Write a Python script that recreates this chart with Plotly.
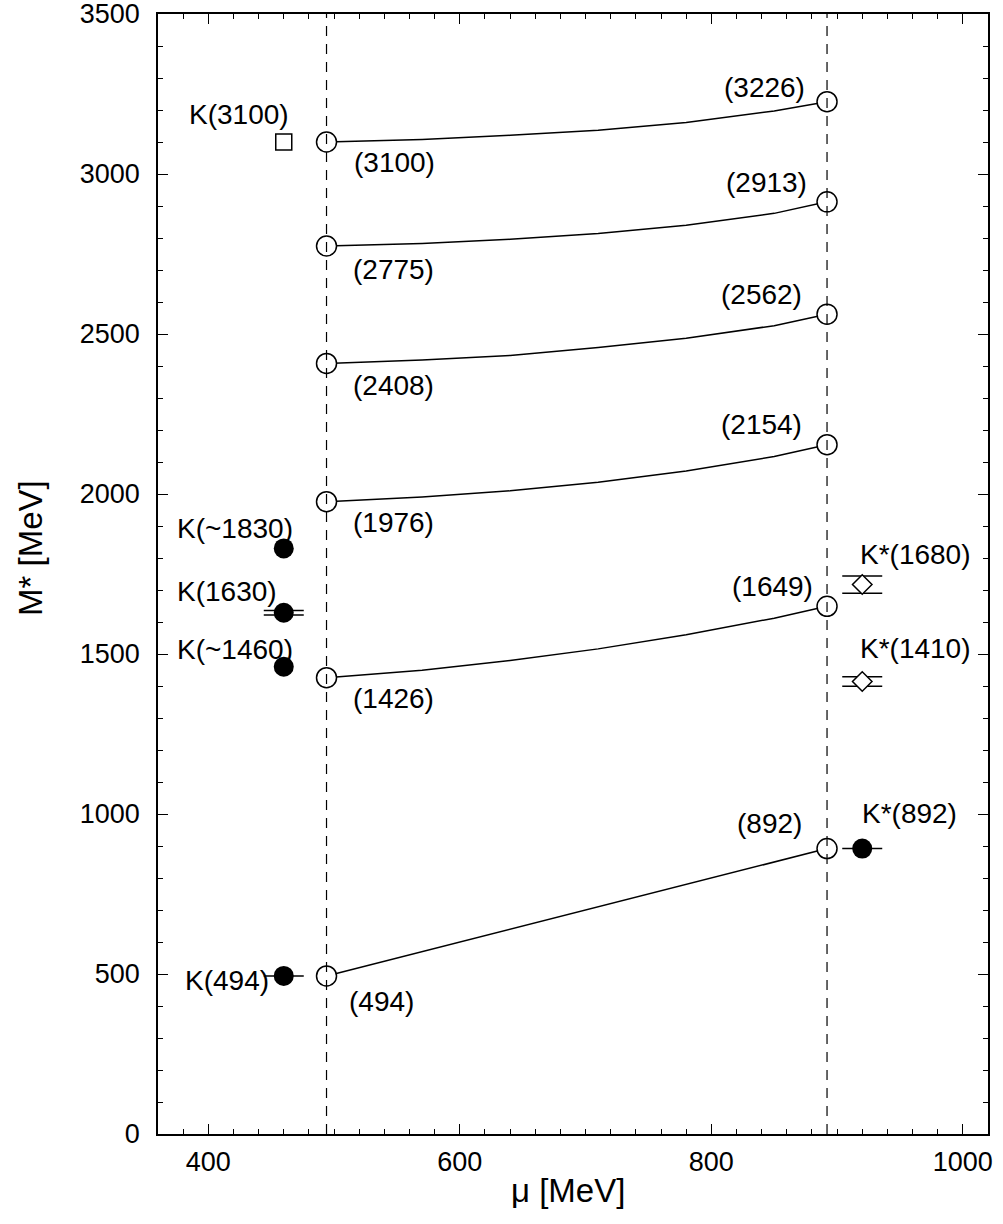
import plotly.graph_objects as go

# ---------------- data ----------------
mu_ends = [494, 892]                      # MeV, endpoints of the curves
mu_curve = [494, 570, 640, 710, 780, 850, 892]
m_494 = [494, 892]                        # straight line (ground state)
m_1426 = [1426, 1449, 1480, 1516, 1560, 1612, 1649]
m_1976 = [1976, 1991, 2010, 2037, 2072, 2117, 2154]
m_2408 = [2408, 2419, 2433, 2458, 2487, 2526, 2562]
m_2775 = [2775, 2783, 2796, 2814, 2840, 2877, 2913]
m_3100 = [3100, 3108, 3121, 3137, 3161, 3197, 3226]

# experimental K states (left) and K* states (right)
expK_mu = [460, 460]
expK_mass = [494, 1629]
expK_err = [0, 7]
expK_names = ["K(494)", "K(1630)"]

expK2_mu = [460, 460]
expK2_mass = [1460, 1830]
expK2_names = ["K(~1460)", "K(~1830)"]

expKsq_mu = [460]
expKsq_mass = [3100]
expKsq_names = ["K(3100)"]

expKs_mu = [920]
expKs_mass = [892]
expKs_err = [0]
expKs_names = ["K*(892)"]

expKsd_mu = [920, 920]
expKsd_mass = [1414, 1717]
expKsd_err = [15, 27]
expKsd_names = ["K*(1410)", "K*(1680)"]

x_ticks = [400, 600, 800, 1000]
y_ticks = [0, 500, 1000, 1500, 2000, 2500, 3000, 3500]

# ---------------- style ----------------
FONT = "Liberation Sans, Arial, sans-serif"
LBL = 28
fig = go.Figure()

curves = [m_494, m_1426, m_1976, m_2408, m_2775, m_3100]
for c in curves:
    xs = mu_ends if len(c) == 2 else mu_curve
    fig.add_trace(go.Scatter(x=xs, y=c, mode="lines",
                             line=dict(color="black", width=1.5),
                             showlegend=False, hoverinfo="skip"))

left_vals = [c[0] for c in curves]
right_vals = [c[-1] for c in curves]
fig.add_trace(go.Scatter(x=[mu_ends[0]] * len(curves) + [mu_ends[1]] * len(curves),
                         y=left_vals + right_vals, mode="markers",
                         marker=dict(symbol="circle", size=20, color="white",
                                     line=dict(color="black", width=1.5)),
                         showlegend=False))

# experimental
fig.add_trace(go.Scatter(x=expK_mu, y=expK_mass, mode="markers",
                         error_y=dict(type="data", array=expK_err, width=20,
                                      color="black", thickness=1.5),
                         marker=dict(symbol="circle", size=20, color="black"),
                         showlegend=False))
fig.add_trace(go.Scatter(x=expK2_mu, y=expK2_mass, mode="markers",
                         marker=dict(symbol="circle", size=20, color="black"),
                         showlegend=False))
fig.add_trace(go.Scatter(x=expKsq_mu, y=expKsq_mass, mode="markers",
                         marker=dict(symbol="square", size=16, color="white",
                                     line=dict(color="black", width=1.5)),
                         showlegend=False))
fig.add_trace(go.Scatter(x=expKs_mu, y=expKs_mass, mode="markers",
                         error_y=dict(type="data", array=expKs_err, width=20,
                                      color="black", thickness=1.5),
                         marker=dict(symbol="circle", size=20, color="black"),
                         showlegend=False))
fig.add_trace(go.Scatter(x=expKsd_mu, y=expKsd_mass, mode="markers",
                         error_y=dict(type="data", array=expKsd_err, width=20,
                                      color="black", thickness=1.5),
                         marker=dict(symbol="diamond", size=15, color="white",
                                     line=dict(color="black", width=1.5)),
                         showlegend=False))

# dashed vertical lines
for m in mu_ends:
    fig.add_shape(type="line", xref="x", yref="paper", x0=m, x1=m, y0=0, y1=1,
                  line=dict(color="black", width=1.2, dash="10px,8px"), layer="above")

ann = []
def lab(x, y, text, dx, dy):
    ann.append(dict(x=x, y=y, text=text, showarrow=False, xshift=dx, yshift=dy,
                    xanchor="center", yanchor="middle",
                    font=dict(family=FONT, size=LBL, color="black")))

left_off = [(55, -26), (67, -21), (67, -21), (67, -22), (67, -23), (68, -20)]
right_off = [(-58, 25), (-55, 20), (-66, 20), (-66, 20), (-61, 19), (-63, 14)]
for v, o in zip(left_vals, left_off):
    lab(mu_ends[0], v, f"({v})", *o)
for v, o in zip(right_vals, right_off):
    lab(mu_ends[1], v, f"({v})", *o)

for x, y, n, o in zip(expK_mu, expK_mass, expK_names, [(-57, -5), (-57, 21)]):
    lab(x, y, n, *o)
for x, y, n, o in zip(expK2_mu, expK2_mass, expK2_names, [(-49, 17), (-49, 20)]):
    lab(x, y, n, *o)
for x, y, n in zip(expKsq_mu, expKsq_mass, expKsq_names):
    lab(x, y, n, -45, 28)
for x, y, n in zip(expKs_mu, expKs_mass, expKs_names):
    lab(x, y, n, 47, 35)
for x, y, n, o in zip(expKsd_mu, expKsd_mass, expKsd_names, [(53, 33), (53, 30)]):
    lab(x, y, n, *o)

# axis titles
ann.append(dict(x=0.5, y=0, xref="paper", yref="paper", text="μ [MeV]", showarrow=False,
                xanchor="center", yanchor="middle", yshift=-56, xshift=-5,
                font=dict(family=FONT, size=33, color="black")))
ann.append(dict(x=0, y=(1134 - 548) / 1120, xref="paper", yref="paper", text="M* [MeV]",
                showarrow=False, textangle=-90, xanchor="center", yanchor="middle",
                xshift=-128, font=dict(family=FONT, size=33, color="black")))

axis_common = dict(showline=True, linecolor="black", linewidth=1.5, mirror="allticks",
                   ticks="inside", ticklen=10, tickwidth=1.2, tickcolor="black",
                   showgrid=False, zeroline=False, ticklabeloverflow="allow",
                   automargin=False,
                   tickfont=dict(family=FONT, size=27, color="black"))

fig.update_layout(
    width=1003, height=1224,
    margin=dict(l=158, r=15, t=14, b=90),
    plot_bgcolor="white", paper_bgcolor="white",
    annotations=ann,
    xaxis=dict(range=[360, 1020], tickvals=x_ticks, ticklabelstandoff=3,
               minor=dict(dtick=20, tick0=0, ticklen=5, ticks="inside",
                          tickcolor="black", tickwidth=1.2),
               **axis_common),
    yaxis=dict(range=[0, 3500], tickvals=y_ticks, ticklabelstandoff=11,
               minor=dict(dtick=100, tick0=0, ticklen=5, ticks="inside",
                          tickcolor="black", tickwidth=1.2),
               **axis_common),
)

fig.write_html("out.html", config={"displayModeBar": False},
               post_script="document.body.style.margin='0';document.body.style.overflow='hidden';")
